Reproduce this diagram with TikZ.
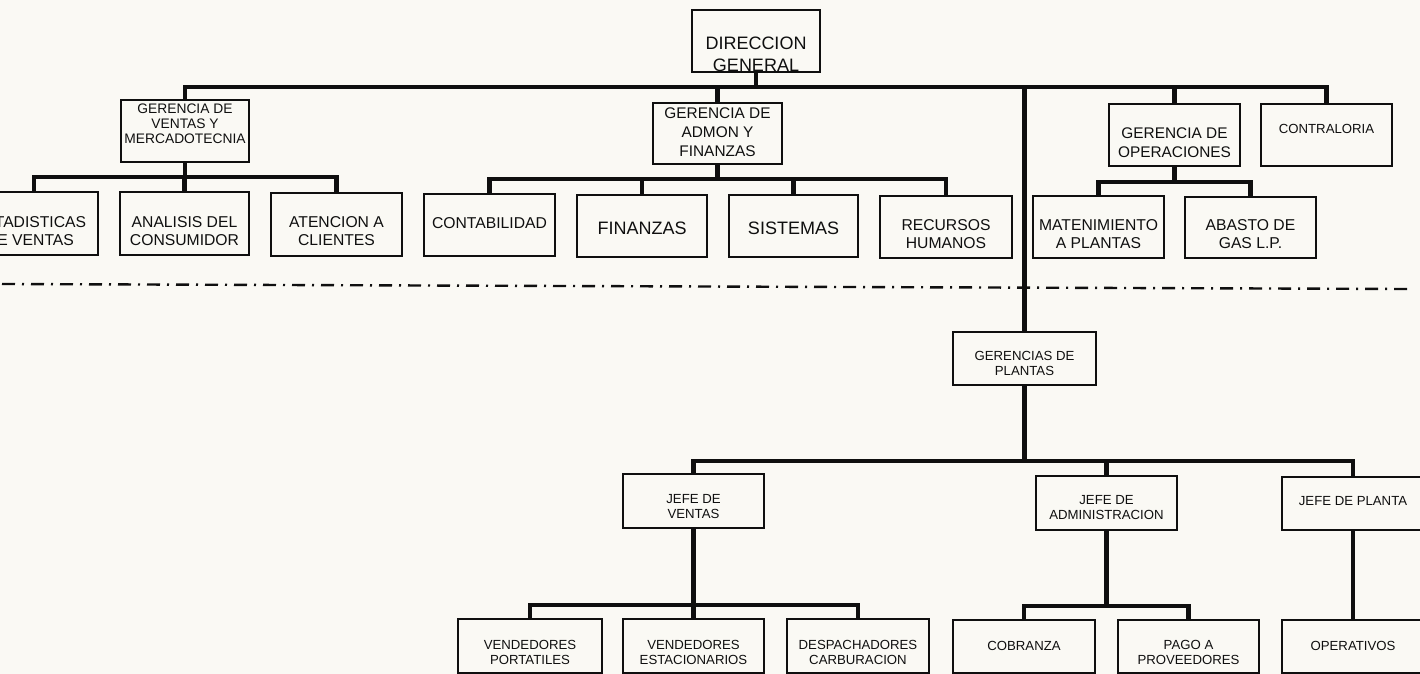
\documentclass[tikz,border=0pt]{standalone}
\usepackage{fontspec}
\setmainfont{Liberation Sans}
\definecolor{paper}{RGB}{250,249,244}
\definecolor{ink}{RGB}{15,15,15}
\begin{document}
\begin{tikzpicture}[x=0.5pt,y=-0.5pt,
  bx/.style 2 args={draw=ink, line width=0.8pt, minimum width=#1*0.5pt, minimum height=#2*0.5pt, inner sep=0pt, outer sep=0pt},
  tx/.style={text=ink, align=center, inner sep=0pt},
  fa/.style={font=\fontsize{6.6}{7.3}\selectfont},
  fb/.style={font=\fontsize{6.9}{7.5}\selectfont},
  fc/.style={font=\fontsize{7.7}{9.5}\selectfont},
  fd/.style={font=\fontsize{7.85}{9}\selectfont},
  fe/.style={font=\fontsize{9}{11}\selectfont},
  conn/.style={draw=ink, line width=2.1pt, line join=miter},
  dashline/.style={draw=ink, line width=1.2pt, dash pattern=on 6.5pt off 3.5pt on 1pt off 3.5pt}]
\useasboundingbox (0,0) rectangle (1420,674);
\fill[paper] (0,0) rectangle (1420,674);
\clip (0,0) rectangle (1420,674);

% ---- level 0
\node[bx={128}{62}] (dg) at (756,41) {};
\node[tx,fe] (tdg) at (756,54) {DIRECCION\\GENERAL};

% ---- level 1
\node[bx={128}{62}] (gvm) at (185,131) {};
\node[tx,fb] (tgvm) at (185,124) {GERENCIA DE\\VENTAS Y\\MERCADOTECNIA};
\node[bx={129}{61}] (gaf) at (717.5,133.5) {};
\node[tx,fc] (tgaf) at (717.5,132) {GERENCIA DE\\ADMON Y\\FINANZAS};
\node[bx={131}{62}] (go) at (1174.5,135) {};
\node[tx,fc] (tgo) at (1174.5,142.5) {GERENCIA DE\\OPERACIONES};
\node[bx={131}{62}] (con) at (1326.5,135) {};
\node[tx,font=\fontsize{6.6}{7.5}\selectfont] (tcon) at (1326.5,129) {CONTRALORIA};

% ---- level 2
\node[bx={128}{63}] (est) at (34,223.5) {};
\node[tx,fd] (test) at (30,231) {ESTADISTICAS\\DE VENTAS};
\node[bx={129}{63}] (ana) at (184.5,223.5) {};
\node[tx,fd] (tana) at (184.5,231) {ANALISIS DEL\\CONSUMIDOR};
\node[bx={131}{63}] (ate) at (336.5,224.5) {};
\node[tx,fd] (tate) at (336.5,231) {ATENCION A\\CLIENTES};

\node[bx={131}{62}] (ctb) at (489.5,225) {};
\node[tx,fd] (tctb) at (489.5,223) {CONTABILIDAD};
\node[bx={130}{62}] (fin) at (642,226) {};
\node[tx,fe] (tfin) at (642,228) {FINANZAS};
\node[bx={129}{62}] (sis) at (793.5,226) {};
\node[tx,fe] (tsis) at (793.5,228) {SISTEMAS};
\node[bx={132}{62}] (rec) at (946,227) {};
\node[tx,fd] (trec) at (946,234) {RECURSOS\\HUMANOS};

\node[bx={131}{62}] (mat) at (1098.5,227) {};
\node[tx,fd] (tmat) at (1098.5,234) {MATENIMIENTO\\A PLANTAS};
\node[bx={131}{61}] (aba) at (1250.5,227.5) {};
\node[tx,fd] (taba) at (1250.5,234) {ABASTO DE\\GAS L.P.};

% ---- plants
\node[bx={143}{53}] (gp) at (1024.5,358.5) {};
\node[tx,fa] (tgp) at (1024.5,363.5) {GERENCIAS DE\\PLANTAS};

\node[bx={141}{54}] (jv) at (693.5,501) {};
\node[tx,fa] (tjv) at (693.5,506.5) {JEFE DE\\VENTAS};
\node[bx={141}{54}] (ja) at (1106.5,503) {};
\node[tx,fa] (tja) at (1106.5,507.5) {JEFE DE\\ADMINISTRACION};
\node[bx={142}{53}] (jp) at (1353,503.5) {};
\node[tx,fa] (tjp) at (1353,501) {JEFE DE PLANTA};

\node[bx={144}{54}] (vp) at (530,646) {};
\node[tx,fa] (tvp) at (530,652.5) {VENDEDORES\\PORTATILES};
\node[bx={141}{54}] (ve) at (693.5,646) {};
\node[tx,fa] (tve) at (693.5,652.5) {VENDEDORES\\ESTACIONARIOS};
\node[bx={142}{54}] (dc) at (858,646) {};
\node[tx,fa] (tdc) at (858,652.5) {DESPACHADORES\\CARBURACION};
\node[bx={142}{53}] (cob) at (1024,646.5) {};
\node[tx,fa] (tcob) at (1024,646) {COBRANZA};
\node[bx={141}{53}] (pag) at (1188.5,646.5) {};
\node[tx,fa] (tpag) at (1188.5,652.5) {PAGO A\\PROVEEDORES};
\node[bx={142}{53}] (ope) at (1353,646.5) {};
\node[tx,fa] (tope) at (1353,646) {OPERATIVOS};

% ---- bus levels
\coordinate (bus0) at (0,87);
\coordinate (busA) at (0,177);
\coordinate (busB) at (0,179);
\coordinate (busC) at (0,182);
\coordinate (busP) at (0,461);
\coordinate (busV) at (0,605);
\coordinate (busJ) at (0,606);

% ---- connectors
\draw[conn] (dg.south) -- (dg.south |- bus0);
\draw[conn] (gvm.north) -- (gvm.north |- bus0) -- (con.north |- bus0) -- (con.north);
\draw[conn] (gaf.north) -- (gaf.north |- bus0);
\draw[conn] (go.north) -- (go.north |- bus0);
\draw[conn] (gp.north) -- (gp.north |- bus0);

\draw[conn] (gvm.south) -- (gvm.south |- busA);
\draw[conn] (est.north) -- (est.north |- busA) -- (ate.north |- busA) -- (ate.north);
\draw[conn] (ana.north) -- (ana.north |- busA);

\draw[conn] (gaf.south) -- (gaf.south |- busB);
\draw[conn] (ctb.north) -- (ctb.north |- busB) -- (rec.north |- busB) -- (rec.north);
\draw[conn] (fin.north) -- (fin.north |- busB);
\draw[conn] (sis.north) -- (sis.north |- busB);

\draw[conn] (go.south) -- (go.south |- busC);
\draw[conn] (mat.north) -- (mat.north |- busC) -- (aba.north |- busC) -- (aba.north);

\draw[conn] (gp.south) -- (gp.south |- busP);
\draw[conn] (jv.north) -- (jv.north |- busP) -- (jp.north |- busP) -- (jp.north);
\draw[conn] (ja.north) -- (ja.north |- busP);

\draw[conn] (jv.south) -- (jv.south |- busV);
\draw[conn] (vp.north) -- (vp.north |- busV) -- (dc.north |- busV) -- (dc.north);
\draw[conn] (ve.north) -- (ve.north |- busV);

\draw[conn] (ja.south) -- (ja.south |- busJ);
\draw[conn] (cob.north) -- (cob.north |- busJ) -- (pag.north |- busJ) -- (pag.north);

\draw[conn] (jp.south) -- (ope.north);

% ---- dash-dot separator
\coordinate (dl1) at (2,284);
\coordinate (dl2) at (1408,289);
\draw[dashline] (dl1) -- (dl2);
\end{tikzpicture}
\end{document}
